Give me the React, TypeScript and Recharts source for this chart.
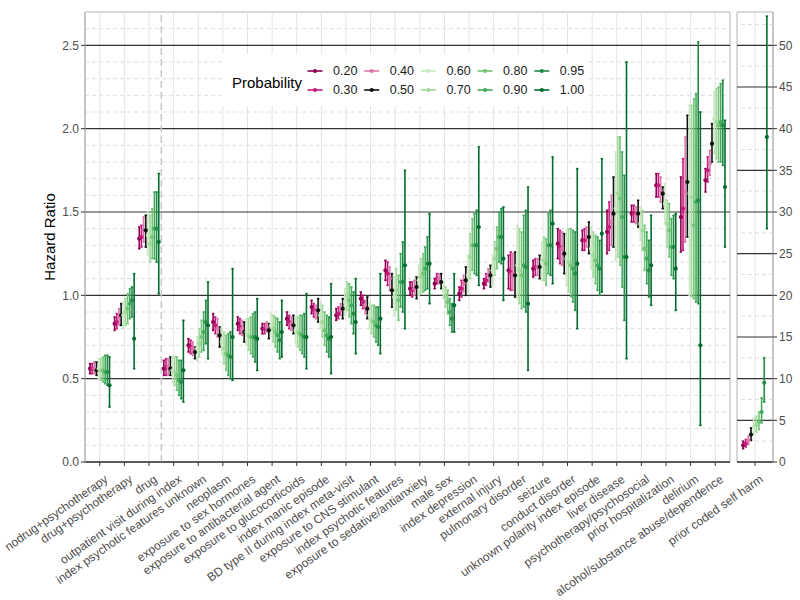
import React from 'react';
import { ScatterChart, Scatter, XAxis, YAxis, ErrorBar, ReferenceLine, ReferenceArea } from 'recharts';

const categories = [
  'nodrug+psychotherapy', 'drug+psychotherapy', 'drug', 'outpatient visit during index',
  'index psychotic features unknown', 'neoplasm', 'exposure to sex hormones',
  'exposure to antibacterial agent', 'exposure to glucocorticoids', 'index manic episode',
  'BD type II during index meta-visit', 'exposure to CNS stimulant', 'index psychotic features',
  'exposure to sedative/antianxiety', 'male sex', 'index depression', 'external injury',
  'pulmonary disorder', 'seizure', 'conduct disorder', 'unknown polarity index episode',
  'liver disease', 'psychotherapy/psychosocial', 'prior hospitalization', 'delirium',
  'alcohol/substance abuse/dependence',
];
const sideCategories = ['prior coded self harm'];

const probLabels = ['0.20', '0.30', '0.40', '0.50', '0.60', '0.70', '0.80', '0.90', '0.95', '1.00'];
const probColors = ['#8e0152', '#c51b7d', '#de77ae', '#111111', '#c7e9c0', '#a1d99b', '#74c476', '#41ab5d', '#238b45', '#006d2c'];

// hazard ratio + CI per probability threshold, one value per category (same order as categories)
const hr20 = [0.56, 0.83, 1.34, 0.56, 0.70, 0.84, 0.83, 0.80, 0.86, 0.93, 0.88, 0.98, 1.15, 1.04, 1.07, 1.01, 1.07, 1.15, 1.16, 1.31, 1.33, 1.38, 1.49, 1.66, 1.47, 1.69];
const lo20 = [0.53, 0.79, 1.28, 0.52, 0.66, 0.79, 0.79, 0.77, 0.82, 0.89, 0.85, 0.94, 1.09, 1.00, 1.04, 0.97, 1.04, 1.04, 1.11, 1.22, 1.27, 1.25, 1.44, 1.59, 1.26, 1.62];
const hi20 = [0.59, 0.87, 1.41, 0.61, 0.74, 0.89, 0.87, 0.83, 0.90, 0.97, 0.92, 1.02, 1.21, 1.08, 1.10, 1.05, 1.10, 1.24, 1.21, 1.40, 1.39, 1.51, 1.54, 1.73, 1.71, 1.76];

const hr30 = [0.56, 0.84, 1.35, 0.57, 0.69, 0.82, 0.81, 0.80, 0.84, 0.91, 0.89, 0.96, 1.13, 1.03, 1.10, 1.04, 1.09, 1.14, 1.17, 1.29, 1.33, 1.41, 1.49, 1.66, 1.52, 1.75];
const lo30 = [0.53, 0.80, 1.29, 0.52, 0.65, 0.77, 0.77, 0.77, 0.80, 0.87, 0.86, 0.92, 1.06, 0.99, 1.07, 0.99, 1.06, 1.03, 1.12, 1.19, 1.27, 1.27, 1.44, 1.59, 1.27, 1.68];
const hi30 = [0.59, 0.89, 1.42, 0.62, 0.73, 0.87, 0.86, 0.83, 0.88, 0.95, 0.93, 1.00, 1.20, 1.08, 1.13, 1.09, 1.13, 1.26, 1.22, 1.39, 1.40, 1.56, 1.54, 1.73, 1.82, 1.83];

const hr40 = [0.56, 0.87, 1.39, 0.57, 0.68, 0.80, 0.80, 0.81, 0.83, 0.90, 0.91, 0.93, 1.10, 1.04, 1.10, 1.07, 1.12, 1.13, 1.17, 1.28, 1.35, 1.44, 1.48, 1.63, 1.62, 1.79];
const lo40 = [0.53, 0.82, 1.32, 0.52, 0.64, 0.75, 0.76, 0.78, 0.79, 0.86, 0.88, 0.89, 1.03, 1.00, 1.07, 1.02, 1.08, 1.03, 1.12, 1.18, 1.29, 1.30, 1.43, 1.56, 1.32, 1.72];
const hi40 = [0.60, 0.92, 1.47, 0.62, 0.72, 0.86, 0.85, 0.84, 0.87, 0.94, 0.95, 0.97, 1.17, 1.09, 1.13, 1.12, 1.16, 1.25, 1.22, 1.38, 1.41, 1.60, 1.53, 1.71, 1.95, 1.87];

const hr50 = [0.55, 0.88, 1.39, 0.56, 0.66, 0.76, 0.78, 0.79, 0.82, 0.91, 0.92, 0.92, 1.03, 1.05, 1.08, 1.09, 1.12, 1.12, 1.17, 1.25, 1.35, 1.49, 1.49, 1.61, 1.68, 1.91];
const lo50 = [0.52, 0.82, 1.29, 0.52, 0.62, 0.69, 0.72, 0.74, 0.77, 0.84, 0.86, 0.86, 0.93, 0.98, 1.04, 1.00, 1.05, 0.99, 1.10, 1.13, 1.25, 1.29, 1.41, 1.52, 1.35, 1.80];
const hi50 = [0.60, 0.95, 1.48, 0.63, 0.69, 0.81, 0.84, 0.83, 0.88, 0.98, 0.98, 0.99, 1.13, 1.11, 1.13, 1.17, 1.18, 1.26, 1.24, 1.37, 1.44, 1.71, 1.57, 1.65, 2.08, 2.03];

const hr60 = [0.56, 0.88, 1.36, 0.55, 0.68, 0.72, 0.78, 0.82, 0.79, 0.88, 0.96, 0.88, 0.99, 1.09, 1.03, 1.12, 1.15, 1.18, 1.20, 1.22, 1.28, 1.52, 1.43, 1.55, 1.61, 2.06];
const lo60 = [0.50, 0.80, 1.24, 0.48, 0.61, 0.64, 0.70, 0.75, 0.71, 0.80, 0.88, 0.80, 0.88, 1.00, 0.98, 1.01, 1.06, 0.98, 1.09, 1.06, 1.16, 1.21, 1.33, 1.43, 1.00, 1.85];
const hi60 = [0.62, 0.96, 1.50, 0.63, 0.75, 0.80, 0.86, 0.89, 0.87, 0.96, 1.04, 0.96, 1.11, 1.18, 1.08, 1.24, 1.24, 1.42, 1.32, 1.39, 1.41, 1.86, 1.53, 1.67, 2.14, 2.22];

const hr70 = [0.55, 0.90, 1.31, 0.54, 0.71, 0.68, 0.76, 0.80, 0.78, 0.84, 1.00, 0.85, 1.03, 1.11, 0.99, 1.23, 1.22, 1.15, 1.21, 1.20, 1.24, 1.61, 1.39, 1.43, 1.59, 2.04];
const lo70 = [0.49, 0.82, 1.20, 0.46, 0.63, 0.59, 0.67, 0.72, 0.69, 0.75, 0.91, 0.77, 0.91, 1.01, 0.93, 1.10, 1.12, 0.95, 1.09, 1.02, 1.11, 1.23, 1.27, 1.29, 0.99, 1.82];
const hi70 = [0.62, 0.98, 1.48, 0.63, 0.80, 0.78, 0.86, 0.88, 0.87, 0.94, 1.08, 0.94, 1.16, 1.22, 1.05, 1.37, 1.32, 1.40, 1.35, 1.40, 1.38, 1.95, 1.51, 1.57, 2.14, 2.24];

const hr80 = [0.55, 0.92, 1.35, 0.52, 0.75, 0.65, 0.75, 0.78, 0.77, 0.79, 0.97, 0.84, 0.97, 1.13, 0.96, 1.30, 1.28, 1.12, 1.19, 1.18, 1.21, 1.58, 1.28, 1.39, 1.42, 2.02];
const lo80 = [0.48, 0.83, 1.22, 0.43, 0.66, 0.55, 0.65, 0.69, 0.67, 0.70, 0.87, 0.75, 0.85, 1.02, 0.89, 1.15, 1.16, 0.92, 1.06, 0.99, 1.07, 1.18, 1.15, 1.23, 0.98, 1.80];
const hi80 = [0.63, 1.01, 1.52, 0.63, 0.85, 0.76, 0.87, 0.87, 0.88, 0.90, 1.07, 0.94, 1.12, 1.25, 1.03, 1.46, 1.41, 1.38, 1.34, 1.40, 1.36, 1.95, 1.42, 1.55, 2.18, 2.25];

const hr90 = [0.54, 0.95, 1.40, 0.49, 0.78, 0.64, 0.75, 0.76, 0.76, 0.76, 0.94, 0.82, 1.08, 1.16, 0.90, 1.30, 1.35, 1.18, 1.30, 1.16, 1.18, 1.47, 1.22, 1.29, 1.56, 2.04];
const lo90 = [0.47, 0.86, 1.22, 0.40, 0.67, 0.52, 0.63, 0.66, 0.65, 0.66, 0.83, 0.72, 0.93, 1.03, 0.82, 1.13, 1.20, 0.93, 1.13, 0.96, 1.03, 1.05, 1.07, 1.12, 0.96, 1.80];
const hi90 = [0.64, 1.04, 1.62, 0.61, 0.90, 0.77, 0.89, 0.86, 0.88, 0.88, 1.05, 0.93, 1.25, 1.29, 0.98, 1.49, 1.50, 1.48, 1.49, 1.39, 1.35, 1.86, 1.38, 1.46, 2.21, 2.27];

const hr95 = [0.54, 0.97, 1.40, 0.48, 0.84, 0.63, 0.75, 0.73, 0.75, 0.74, 0.89, 0.81, 1.08, 1.19, 0.86, 1.30, 1.35, 1.17, 1.30, 1.13, 1.16, 1.23, 1.15, 1.29, 1.57, 2.02];
const lo95 = [0.46, 0.87, 1.20, 0.38, 0.71, 0.50, 0.60, 0.62, 0.63, 0.63, 0.77, 0.70, 0.90, 1.04, 0.78, 1.12, 1.19, 0.90, 1.12, 0.91, 1.00, 0.85, 0.99, 1.10, 0.95, 1.78];
const hi95 = [0.64, 1.05, 1.62, 0.61, 0.97, 0.78, 0.90, 0.84, 0.89, 0.87, 1.02, 0.93, 1.32, 1.35, 0.95, 1.51, 1.52, 1.51, 1.51, 1.38, 1.33, 1.72, 1.33, 1.48, 2.52, 2.29];

const hr100 = [0.46, 0.74, 1.32, 0.55, 0.82, 0.75, 0.74, 0.78, 0.75, 0.75, 0.84, 0.86, 1.18, 1.19, 0.94, 1.41, 1.22, 0.95, 1.43, 1.19, 1.37, 1.23, 1.18, 1.16, 0.70, 1.65];
const lo100 = [0.33, 0.56, 1.01, 0.36, 0.62, 0.49, 0.55, 0.63, 0.56, 0.53, 0.65, 0.65, 0.80, 0.95, 0.78, 1.06, 0.97, 0.55, 1.07, 0.80, 1.02, 0.62, 0.94, 0.91, 0.22, 1.29];
const hi100 = [0.63, 1.13, 1.73, 0.85, 1.08, 1.16, 0.98, 0.97, 1.01, 1.07, 1.10, 1.13, 1.75, 1.49, 1.13, 1.89, 1.53, 1.65, 1.83, 1.76, 1.82, 2.40, 1.48, 1.49, 2.10, 2.05];

// prior coded self harm, one value per probability threshold
const selfHarmHr = [2.0, 2.2, 2.6, 3.3, 4.2, 4.4, 4.8, 6.0, 9.5, 39.0];
const selfHarmLo = [1.6, 1.8, 2.1, 2.6, 3.3, 3.6, 3.9, 4.7, 7.2, 28.0];
const selfHarmHi = [2.5, 2.7, 3.1, 4.1, 5.3, 5.5, 6.0, 7.7, 12.5, 53.5];

const leftMajor = [0, 0.5, 1.0, 1.5, 2.0, 2.5];
const leftMinor = [0.1, 0.2, 0.3, 0.4, 0.6, 0.7, 0.8, 0.9, 1.1, 1.2, 1.3, 1.4, 1.6, 1.7, 1.8, 1.9, 2.1, 2.2, 2.3, 2.4, 2.6];
const rightMajor = [0, 5, 10, 15, 20, 25, 30, 35, 40, 45, 50];
const rightMinor = [2.5, 7.5, 12.5, 17.5, 22.5, 27.5, 32.5, 37.5, 42.5, 47.5, 52.5];

const hrByLevel = [hr20, hr30, hr40, hr50, hr60, hr70, hr80, hr90, hr95, hr100];
const loByLevel = [lo20, lo30, lo40, lo50, lo60, lo70, lo80, lo90, lo95, lo100];
const hiByLevel = [hi20, hi30, hi40, hi50, hi60, hi70, hi80, hi90, hi95, hi100];

const DODGE = 0.088;
const FONT = '"Liberation Sans", Arial, Helvetica, sans-serif';

const leftSeries = probLabels.map((_, j) =>
  categories.map((_, i) => {
    const y = hrByLevel[j][i];
    return { x: i + 1 + (j - 4.5) * DODGE, y, err: [y - loByLevel[j][i], hiByLevel[j][i] - y] };
  })
);
const rightSeries = probLabels.map((_, j) => [
  { x: 1 + (j - 4.5) * DODGE, y: selfHarmHr[j], err: [selfHarmHr[j] - selfHarmLo[j], selfHarmHi[j] - selfHarmHr[j]] },
]);

const makeTick = (names: string[]) => (props: any) => {
  const { payload } = props;
  const x = props.x + 4;
  const y = props.y + 6;
  return (
    <text x={x} y={y} dy="0.72em" textAnchor="end" fontSize={12} fill="#4d4d4d" fontFamily={FONT}
      transform={`rotate(-35 ${x} ${y})`}>
      {names[payload.value - 1]}
    </text>
  );
};

const dot = (color: string) => (props: any) => <circle cx={props.cx} cy={props.cy} r={2.1} fill={color} />;

const gridLines = (minor: number[], major: number[], xs: number[]) => [
  ...minor.map((v) => (
    <ReferenceLine key={'mn' + v} y={v} stroke="#d6d6d6" strokeWidth={0.8} strokeDasharray="4 3" />
  )),
  ...xs.map((v) => <ReferenceLine key={'vx' + v} x={v} stroke="#e3e3e3" strokeWidth={1} />),
  ...major.map((v) => <ReferenceLine key={'mj' + v} y={v} stroke="#333333" strokeWidth={1.1} />),
];

const renderSeries = (series: any[]) =>
  series.map((data, j) => (
    <Scatter key={probLabels[j]} data={data} fill={probColors[j]} shape={dot(probColors[j])} isAnimationActive={false}>
      <ErrorBar dataKey="err" direction="y" width={1.2} stroke={probColors[j]} strokeWidth={1.6} isAnimationActive={false} />
    </Scatter>
  ));

const Legend = () => (
  <div style={{ position: 'absolute', left: 222, top: 54, width: 364, height: 52, background: '#fff' }}>
    <svg width={364} height={52} style={{ fontFamily: FONT }}>
      <text x={10} y={28} dominantBaseline="central" fontSize={15} fill="#000">Probability</text>
      {probLabels.map((p, j) => {
        const col = Math.floor(j / 2);
        const row = j % 2;
        const kx = 93 + col * 56.7;
        const ky = 17 + row * 19;
        return (
          <g key={p}>
            <line x1={kx - 7.5} x2={kx + 7.5} y1={ky} y2={ky} stroke={probColors[j]} strokeWidth={1.6} />
            <circle cx={kx} cy={ky} r={2.1} fill={probColors[j]} />
            <text x={kx + 18} y={ky} dominantBaseline="central" fontSize={12.5} fill="#1a1a1a">{p}</text>
          </g>
        );
      })}
    </svg>
  </div>
);

export default function App() {
  const leftTicks = categories.map((_, i) => i + 1);
  return (
    <div style={{ position: 'absolute', left: 0, top: 0, width: 800, height: 600, background: '#fff', fontFamily: FONT }}>
      <div style={{ position: 'absolute', left: 0, top: 0 }}>
        <ScatterChart width={740} height={600} margin={{ top: 12, right: 10, bottom: 8, left: 0 }}>
          <XAxis type="number" dataKey="x" domain={[0.4, 26.6]} ticks={leftTicks} interval={0} allowDataOverflow
            height={130} tick={makeTick(categories)} tickSize={4} tickLine={{ stroke: '#333' }} axisLine={{ stroke: '#333' }} />
          <YAxis type="number" dataKey="y" domain={[0, 2.7]} ticks={leftMajor} allowDataOverflow width={85}
            tickFormatter={(v: number) => v.toFixed(1)} tickSize={4} tickLine={{ stroke: '#333' }} axisLine={{ stroke: '#b3b3b3' }}
            tick={{ fontSize: 12, fill: '#4d4d4d', fontFamily: FONT }}
            label={{
              content: () => (
                <text x={49} y={237} transform="rotate(-90 49 237)" textAnchor="middle" dominantBaseline="central"
                  fontSize={15} fill="#000" fontFamily={FONT}>Hazard Ratio</text>
              ),
            }} />
          {gridLines(leftMinor, leftMajor, leftTicks)}
          <ReferenceLine x={3.5} stroke="#c8c8c8" strokeWidth={1.5} strokeDasharray="7 4" />
          <ReferenceArea x1={0.4} x2={26.6} y1={0} y2={2.7} fill="none" stroke="#b3b3b3" strokeWidth={1} />
          {renderSeries(leftSeries)}
        </ScatterChart>
      </div>
      <div style={{ position: 'absolute', left: 600, top: 0 }}>
        <ScatterChart width={200} height={600} margin={{ top: 12, right: 0, bottom: 8, left: 137 }}>
          <XAxis type="number" dataKey="x" domain={[0.4, 1.6]} ticks={[1]} interval={0} allowDataOverflow
            height={130} tick={makeTick(sideCategories)} tickSize={4} tickLine={{ stroke: '#333' }} axisLine={{ stroke: '#333' }} />
          <YAxis type="number" dataKey="y" orientation="right" domain={[0, 54]} ticks={rightMajor} allowDataOverflow width={27}
            tickSize={4} tickLine={{ stroke: '#333' }} axisLine={{ stroke: '#b3b3b3' }}
            tick={{ fontSize: 12, fill: '#4d4d4d', fontFamily: FONT }} />
          {gridLines(rightMinor, rightMajor, [1])}
          <ReferenceArea x1={0.4} x2={1.6} y1={0} y2={54} fill="none" stroke="#b3b3b3" strokeWidth={1} />
          {renderSeries(rightSeries)}
        </ScatterChart>
      </div>
      <Legend />
    </div>
  );
}
